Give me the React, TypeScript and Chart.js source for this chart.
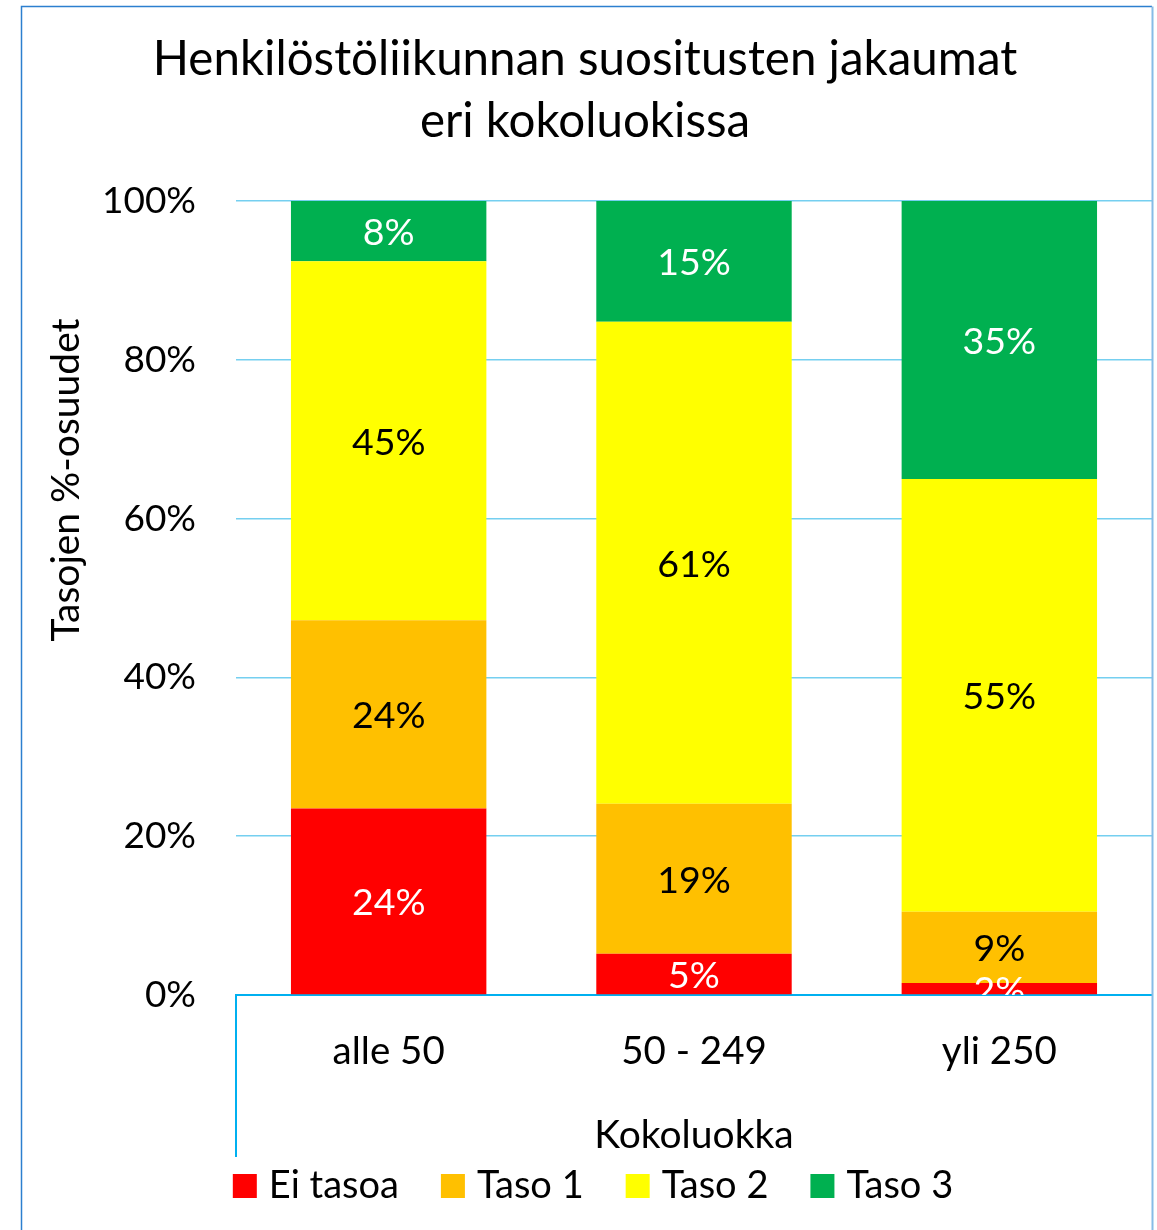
import React, { useEffect, useRef } from "react";
import { Chart, registerables } from "chart.js";

Chart.register(...registerables);

const categories = ["alle 50", "50 - 249", "yli 250"];
const seriesNames = ["Ei tasoa", "Taso 1", "Taso 2", "Taso 3"];
const eiTasoa = [23.5, 5.2, 1.5];
const taso1 = [23.7, 18.9, 9.0];
const taso2 = [45.2, 60.7, 54.5];
const taso3 = [7.6, 15.2, 35.0];
const seriesColors = ["#FF0000", "#FFC000", "#FFFF00", "#00B050"];
const labelColors = ["#FFFFFF", "#000000", "#000000", "#FFFFFF"];
const yTickValues = [0, 20, 40, 60, 80, 100];
const titleLines = ["Henkilöstöliikunnan suositusten jakaumat", "eri kokoluokissa"];
const xTitle = "Kokoluokka";
const yTitle = "Tasojen %-osuudet";

const FONT = "Lato, 'Open Sans', sans-serif";
const TITLE_SIZE = 47.5;
const YTICK_SIZE = 37;
const XTICK_SIZE = 38.5;
const DATA_SIZE = 37.5;
const LEGEND_SIZE = 38;
const AXIS_TITLE_SIZE = 39;

const segLabelsPlugin = {
  id: "segLabels",
  afterDatasetsDraw(chart: any) {
    const { ctx, chartArea } = chart;
    ctx.save();
    ctx.beginPath();
    ctx.rect(chartArea.left, chartArea.top, chartArea.right - chartArea.left, chartArea.bottom - chartArea.top);
    ctx.clip();
    ctx.font = `${DATA_SIZE}px ${FONT}`;
    ctx.textAlign = "center";
    ctx.textBaseline = "middle";
    chart.data.datasets.forEach((ds: any, i: number) => {
      const meta = chart.getDatasetMeta(i);
      meta.data.forEach((bar: any, j: number) => {
        const v = ds.data[j];
        const { x, y, base } = bar.getProps(["x", "y", "base"], true);
        ctx.fillStyle = labelColors[i];
        ctx.fillText(Math.round(v) + "%", x, (y + base) / 2 + 2);
      });
    });
    ctx.restore();
  },
};

const decorPlugin = {
  id: "decor",
  afterDraw(chart: any) {
    const { ctx, chartArea, height } = chart;
    ctx.save();
    // outer frame
    ctx.lineWidth = 1.5;
    ctx.strokeStyle = "#2C7FCF";
    ctx.beginPath();
    ctx.moveTo(21.5, height);
    ctx.lineTo(21.5, 6.5);
    ctx.lineTo(chartArea.right, 6.5);
    ctx.stroke();
    ctx.strokeStyle = "#86BCE6";
    ctx.lineWidth = 2;
    ctx.beginPath();
    ctx.moveTo(chartArea.right + 0.5, 6.5);
    ctx.lineTo(chartArea.right + 0.5, height);
    ctx.stroke();
    // left category axis extension
    ctx.strokeStyle = "#00B0F0";
    ctx.lineWidth = 2;
    ctx.beginPath();
    ctx.moveTo(chartArea.left, chartArea.bottom);
    ctx.lineTo(chartArea.left, chartArea.bottom + 162);
    ctx.stroke();
    // y axis title
    ctx.fillStyle = "#000000";
    ctx.font = `${AXIS_TITLE_SIZE}px ${FONT}`;
    ctx.textAlign = "center";
    ctx.textBaseline = "middle";
    ctx.translate(66, 480);
    ctx.rotate(-Math.PI / 2);
    ctx.fillText(yTitle, 0, 0);
    ctx.restore();

    // legend
    ctx.save();
    ctx.font = `${LEGEND_SIZE}px ${FONT}`;
    ctx.textBaseline = "middle";
    ctx.textAlign = "left";
    const box = 24;
    const gapBT = 12;
    const gapItem = 42;
    const items = chart.data.datasets.map((ds: any) => ({
      label: ds.label,
      color: ds.backgroundColor,
      w: ctx.measureText(ds.label).width,
    }));
    const total = items.reduce((s: number, it: any) => s + box + gapBT + it.w, 0) + gapItem * (items.length - 1);
    let x = 593 - total / 2;
    const cy = 1186;
    items.forEach((it: any) => {
      ctx.fillStyle = it.color;
      ctx.fillRect(x, cy - box / 2, box, box);
      ctx.fillStyle = "#000000";
      ctx.fillText(it.label, x + box + gapBT, cy);
      x += box + gapBT + it.w + gapItem;
    });
    ctx.restore();
  },
};

export default function App() {
  const canvasRef = useRef<HTMLCanvasElement | null>(null);

  useEffect(() => {
    if (!canvasRef.current) return;
    const seriesData = [eiTasoa, taso1, taso2, taso3];
    const chart = new Chart(canvasRef.current, {
      type: "bar",
      data: {
        labels: categories,
        datasets: seriesNames.map((name, i) => ({
          label: name,
          data: seriesData[i],
          backgroundColor: seriesColors[i],
          borderWidth: 0,
          barPercentage: 0.64,
          categoryPercentage: 1.0,
        })),
      },
      options: {
        animation: false,
        responsive: false,
        devicePixelRatio: 1,
        layout: { padding: { left: 18, right: 5, top: 0, bottom: 71 } },
        plugins: {
          legend: { display: false },
          tooltip: { enabled: false },
          title: {
            display: true,
            text: titleLines,
            color: "#000000",
            font: { family: FONT, size: TITLE_SIZE, weight: "normal", lineHeight: 62 / TITLE_SIZE },
            padding: { top: 29, bottom: 48 },
          },
        },
        scales: {
          x: {
            stacked: true,
            grid: { display: false, drawTicks: false },
            border: { display: true, color: "#00B0F0", width: 2 },
            ticks: { color: "#000000", font: { family: FONT, size: XTICK_SIZE }, padding: 33 },
            title: {
              display: true,
              text: xTitle,
              color: "#000000",
              font: { family: FONT, size: AXIS_TITLE_SIZE },
              padding: { top: 0, bottom: 0 },
            },
            afterFit: (scale: any) => {
              scale.height = 164;
            },
          },
          y: {
            stacked: true,
            min: 0,
            max: 100,
            afterBuildTicks: (scale: any) => {
              scale.ticks = yTickValues.map((v) => ({ value: v }));
            },
            grid: { color: "#75CFF0", lineWidth: 1.5, drawTicks: false },
            border: { display: false },
            ticks: {
              color: "#000000",
              font: { family: FONT, size: YTICK_SIZE },
              padding: 40,
              callback: (v: any) => v + "%",
            },
            afterFit: (scale: any) => {
              scale.width = 218;
            },
          },
        },
      },
      plugins: [segLabelsPlugin, decorPlugin],
    });
    return () => chart.destroy();
  }, []);

  return (
    <div style={{ position: "absolute", left: 0, top: 0, width: 1157, height: 1230, background: "#FFFFFF" }}>
      <canvas ref={canvasRef} width={1157} height={1230} />
    </div>
  );
}
